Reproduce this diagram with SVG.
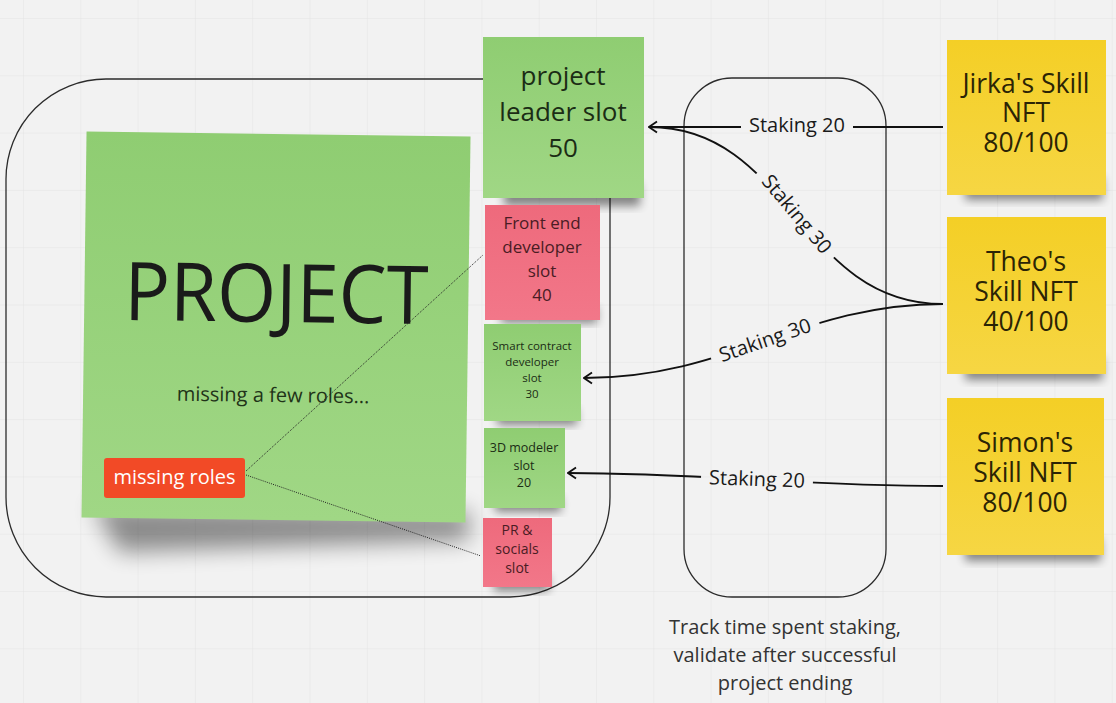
<svg xmlns="http://www.w3.org/2000/svg" width="1116" height="703" viewBox="0 0 1116 703">
  <defs>
    <pattern id="grid" x="23" y="18" width="57.3" height="57.3" patternUnits="userSpaceOnUse">
      <path d="M0,0 V57.3 M0,0 H57.3" fill="none" stroke="#e4e4e4" stroke-width="1"/>
    </pattern>
    <linearGradient id="gGreen" x1="0" y1="0" x2="0" y2="1">
      <stop offset="0" stop-color="#8fcd72"/>
      <stop offset="1" stop-color="#a0d785"/>
    </linearGradient>
    <linearGradient id="gPink" x1="0" y1="0" x2="0" y2="1">
      <stop offset="0" stop-color="#ee6a7c"/>
      <stop offset="1" stop-color="#f27789"/>
    </linearGradient>
    <linearGradient id="gYellow" x1="0" y1="0" x2="0" y2="1">
      <stop offset="0" stop-color="#f4cf26"/>
      <stop offset="1" stop-color="#f6d643"/>
    </linearGradient>
    <filter id="soft" x="-30%" y="-30%" width="160%" height="160%">
      <feGaussianBlur stdDeviation="5"/>
    </filter>
    <filter id="softBig" x="-30%" y="-50%" width="160%" height="200%">
      <feGaussianBlur stdDeviation="11"/>
    </filter>
    <marker id="chevron" viewBox="-11 -7 12 14" refX="0" refY="0" markerWidth="12" markerHeight="14" markerUnits="userSpaceOnUse" orient="auto">
      <path d="M-8,-5.5 L0,0 L-8,5.5" fill="none" stroke="#111" stroke-width="1.8" stroke-linejoin="miter"/>
    </marker>
    <mask id="labelGaps" maskUnits="userSpaceOnUse" x="0" y="0" width="1116" height="703">
      <rect x="0" y="0" width="1116" height="703" fill="#fff"/>
      <rect x="741" y="117" width="112" height="20" fill="#000"/>
      <rect x="-57" y="-10" width="114" height="20" fill="#000" transform="translate(797,214) rotate(50)"/>
      <rect x="-57" y="-10" width="114" height="20" fill="#000" transform="translate(765,340) rotate(-19)"/>
      <rect x="-56" y="-10" width="112" height="20" fill="#000" transform="translate(757,479) rotate(2)"/>
    </mask>
    <style>
      .txt { font-family: "Open Sans", "Liberation Sans", sans-serif; text-anchor: middle; }
      .frame { fill: none; stroke: #2b2b2b; stroke-width: 1.3; }
      .shadow { fill: #000; opacity: 0.45; filter: url(#soft); }
      .green { fill: url(#gGreen); }
      .pink { fill: url(#gPink); }
      .yellow { fill: url(#gYellow); }
      .tGreen { fill: #1b2c15; }
      .tPink { fill: #4a1c24; }
      .tYellow { fill: #2b2405; }
      .link { fill: none; stroke: #111; stroke-width: 1.8; }
      .lbl { font-family: "Open Sans", "Liberation Sans", sans-serif; font-size: 20px; fill: #1a1a1a; text-anchor: middle; }
      .dotted { fill: none; stroke: #222; stroke-width: 1; stroke-dasharray: 1 1.2; }
    </style>
  </defs>

  <!-- board background -->
  <rect width="1116" height="703" fill="#f2f2f2"/>
  <rect width="1116" height="703" fill="url(#grid)"/>

  <!-- frames -->
  <g id="project-frame">
    <rect class="frame" x="6" y="79" width="604" height="518" rx="100" ry="100"/>
  </g>
  <g id="staking-frame">
    <rect class="frame" x="684" y="78" width="202" height="519" rx="48" ry="48"/>
    <text class="txt" x="785" y="634" font-size="20" fill="#333">Track time spent staking,</text>
    <text class="txt" x="785" y="662" font-size="20" fill="#333">validate after successful</text>
    <text class="txt" x="785" y="690" font-size="20" fill="#333">project ending</text>
  </g>

  <!-- main project card -->
  <g id="project">
    <path d="M92,505 L470,512 L468,540 L120,552 Z" fill="#000" opacity="0.42" filter="url(#softBig)"/>
    <g transform="rotate(0.75 276 327)">
      <rect class="green" x="84" y="134" width="384" height="386"/>
      <text class="txt" x="276" y="322" font-size="81" fill="#1a1a1a" textLength="304" lengthAdjust="spacingAndGlyphs">PROJECT</text>
      <text class="txt" x="274" y="402" font-size="20" fill="#1f3318">missing a few roles...</text>
    </g>
  </g>

  <!-- missing roles tag -->
  <g id="missing-roles">
    <rect x="104" y="458" width="141" height="40" rx="3" fill="#f24a26"/>
    <text class="txt" x="174.5" y="484" font-size="20" fill="#ffffff">missing roles</text>
  </g>

  <!-- slot cards -->
  <g id="leader-slot">
    <rect class="shadow" x="500" y="178" width="136" height="22" transform="translate(4,6)"/>
    <rect class="green" x="483" y="37" width="161" height="161"/>
    <text class="txt tGreen" x="563" y="85" font-size="26">project</text>
    <text class="txt tGreen" x="563" y="121" font-size="26">leader slot</text>
    <text class="txt tGreen" x="563" y="157" font-size="26">50</text>
  </g>

  <g id="frontend-slot">
    <rect class="shadow" x="498" y="302" width="96" height="16" transform="translate(3,5)"/>
    <rect class="pink" x="485" y="205" width="115" height="115"/>
    <text class="txt tPink" x="542" y="229" font-size="17">Front end</text>
    <text class="txt tPink" x="542" y="253" font-size="17">developer</text>
    <text class="txt tPink" x="542" y="277" font-size="17">slot</text>
    <text class="txt tPink" x="542" y="301" font-size="17">40</text>
  </g>

  <g id="contract-slot">
    <rect class="shadow" x="494" y="404" width="80" height="16" transform="translate(3,5)"/>
    <rect class="green" x="484" y="324" width="97" height="97"/>
    <text class="txt tGreen" x="532" y="350" font-size="11.5">Smart contract</text>
    <text class="txt tGreen" x="532" y="366" font-size="11.5">developer</text>
    <text class="txt tGreen" x="532" y="382" font-size="11.5">slot</text>
    <text class="txt tGreen" x="532" y="398" font-size="11.5">30</text>
  </g>

  <g id="modeler-slot">
    <rect class="shadow" x="493" y="492" width="66" height="15" transform="translate(2,5)"/>
    <rect class="green" x="484" y="428" width="81" height="80"/>
    <text class="txt tGreen" x="524" y="452" font-size="12.5">3D modeler</text>
    <text class="txt tGreen" x="524" y="470" font-size="12.5">slot</text>
    <text class="txt tGreen" x="524" y="487" font-size="12.5">20</text>
  </g>

  <g id="pr-slot">
    <rect class="shadow" x="492" y="571" width="55" height="15" transform="translate(2,5)"/>
    <rect class="pink" x="483" y="518" width="69" height="69"/>
    <text class="txt tPink" x="517" y="535" font-size="14">PR &amp;</text>
    <text class="txt tPink" x="517" y="554" font-size="14">socials</text>
    <text class="txt tPink" x="517" y="573" font-size="14">slot</text>
  </g>

  <!-- skill NFT cards -->
  <g id="jirka-nft">
    <rect class="shadow" x="962" y="172" width="138" height="22" transform="translate(3,6)"/>
    <rect class="yellow" x="947" y="40" width="159" height="155"/>
    <text class="txt tYellow" x="1026" y="93" font-size="26.5">Jirka's Skill</text>
    <text class="txt tYellow" x="1026" y="122" font-size="26.5">NFT</text>
    <text class="txt tYellow" x="1026" y="152" font-size="26.5">80/100</text>
  </g>

  <g id="theo-nft">
    <rect class="shadow" x="962" y="352" width="138" height="22" transform="translate(3,6)"/>
    <rect class="yellow" x="947" y="217" width="159" height="157"/>
    <text class="txt tYellow" x="1026" y="271" font-size="26.5">Theo's</text>
    <text class="txt tYellow" x="1026" y="301" font-size="26.5">Skill NFT</text>
    <text class="txt tYellow" x="1026" y="331" font-size="26.5">40/100</text>
  </g>

  <g id="simon-nft">
    <rect class="shadow" x="962" y="533" width="136" height="22" transform="translate(3,6)"/>
    <rect class="yellow" x="947" y="398" width="157" height="157"/>
    <text class="txt tYellow" x="1025" y="452" font-size="26.5">Simon's</text>
    <text class="txt tYellow" x="1025" y="482" font-size="26.5">Skill NFT</text>
    <text class="txt tYellow" x="1025" y="512" font-size="26.5">80/100</text>
  </g>

  <!-- connectors -->
  <g id="connectors">
    <path class="dotted" d="M246,471 L483,255"/>
    <path class="dotted" d="M246,475 L481,556"/>
    <g mask="url(#labelGaps)">
      <path class="link" d="M943,127 L649,127" marker-end="url(#chevron)"/>
      <path class="link" d="M943,304 C800,304 790,127 649,127"/>
      <path class="link" d="M943,304 C800,304 730,378 584,378" marker-end="url(#chevron)"/>
      <path class="link" d="M943,486 C800,486 700,473 568,473" marker-end="url(#chevron)"/>
    </g>
    <text class="lbl" x="797" y="132">Staking 20</text>
    <text class="lbl" transform="translate(797,214) rotate(50)" x="0" y="7">Staking 30</text>
    <text class="lbl" transform="translate(765,340) rotate(-19)" x="0" y="7">Staking 30</text>
    <text class="lbl" transform="translate(757,479) rotate(2)" x="0" y="7">Staking 20</text>
  </g>
</svg>
